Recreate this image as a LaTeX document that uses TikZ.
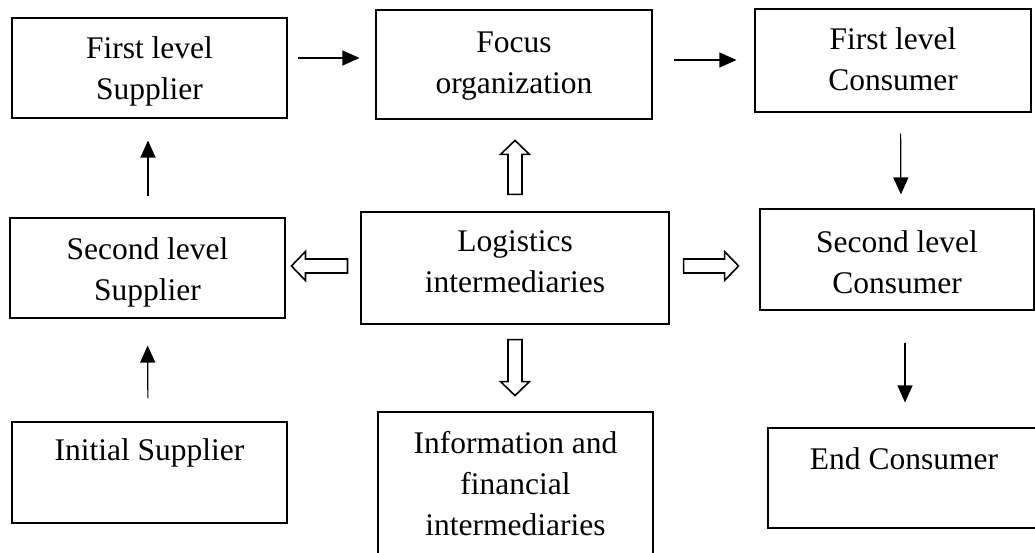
\documentclass[tikz,border=0pt]{standalone}
\usepackage{fontspec}
\setmainfont{Liberation Serif}
\usetikzlibrary{arrows.meta}
% first-line height and last-line depth helpers for placing the labels
\newcommand\hs[1]{\rule{0pt}{#1pt}}
\newcommand\ds[1]{\rule[-#1pt]{0pt}{#1pt}}
\begin{document}
\begin{tikzpicture}[x=1pt,y=-1pt,
  box/.style={draw, line width=1.1pt, inner sep=0pt, align=center,
    font=\fontsize{31.5}{41}\selectfont},
  arr/.style={line width=1.2pt, -{Triangle[length=17pt,width=15pt]}},
  hollowarr/.style={line width=1.6pt, fill=white, line join=miter},
  pics/hollow/.style={code={
    \draw[hollowarr] (0,-7) -- ({#1-14},-7) -- ({#1-14},-14.5) -- (#1,0)
      -- ({#1-14},14.5) -- ({#1-14},7) -- (0,7) -- cycle;}}
]
\useasboundingbox (0,0) rectangle (1035,553);
\clip (0,0) rectangle (1035,553);

% boxes
\node[box, minimum width=275pt, minimum height=100pt] (fls) at (149.5,68)
  {\hs{34.7}First level\\\strut Supplier};
\node[box, minimum width=276pt, minimum height=109pt] (focus) at (514,64.5)
  {\strut Focus\\\strut organization};
\node[box, minimum width=276pt, minimum height=103pt] (flc) at (893,60.5)
  {\hs{30.7}First level\\\strut Consumer};
\node[box, minimum width=275pt, minimum height=100pt] (sls) at (147.5,268)
  {\hs{36.7}Second level\\\strut Supplier};
\node[box, minimum width=308pt, minimum height=112pt] (logi) at (515,268)
  {\strut Logistics\\\ds{20.3}intermediaries};
\node[box, minimum width=274pt, minimum height=101pt] (slc) at (897,259.5)
  {\hs{38.7}Second level\\\strut Consumer};
\node[box, minimum width=275pt, minimum height=101pt] (init) at (149.5,472.5)
  {\strut Initial Supplier\\\strut};
\node[box, minimum width=275pt, minimum height=148pt] (info) at (515.5,486)
  {\strut Information and\\\strut financial\\\strut intermediaries};
\node[box, minimum width=272pt, minimum height=100pt] (endc) at (904,478)
  {\hs{36.7}End Consumer\\\strut};

% material flow
\draw[arr, shorten <=10pt, shorten >=16pt]
  ([yshift=10pt]fls.east) -- ([yshift=6.5pt]focus.west);
\draw[arr, shorten <=21pt, shorten >=18pt]
  ([yshift=4.5pt]focus.east) -- ([yshift=0.5pt]flc.west);
\draw[arr, shorten <=21pt, shorten >=14pt]
  ([xshift=7.5pt]flc.south) -- ([xshift=4pt]slc.north);
\draw[arr, shorten <=32pt, shorten >=25pt]
  ([xshift=8pt]slc.south) -- ([xshift=1pt]endc.north);
\draw[arr, shorten <=21pt, shorten >=22pt]
  ([xshift=0.5pt]sls.north) -- ([xshift=-1.5pt]fls.south);
\draw[arr, shorten <=23pt, shorten >=27pt]
  ([xshift=-1.5pt]init.north) -- (sls.south);

% services from the logistics intermediaries
\pic[rotate=90] at ([yshift=17pt]logi.north) {hollow=54};
\pic[rotate=180] at ([shift={(-13pt,2pt)}]logi.west) {hollow=56};
\pic at ([shift={(14pt,2pt)}]logi.east) {hollow=55};
\pic[rotate=-90] at ([yshift=-15pt]logi.south) {hollow=56};
\end{tikzpicture}
\end{document}
